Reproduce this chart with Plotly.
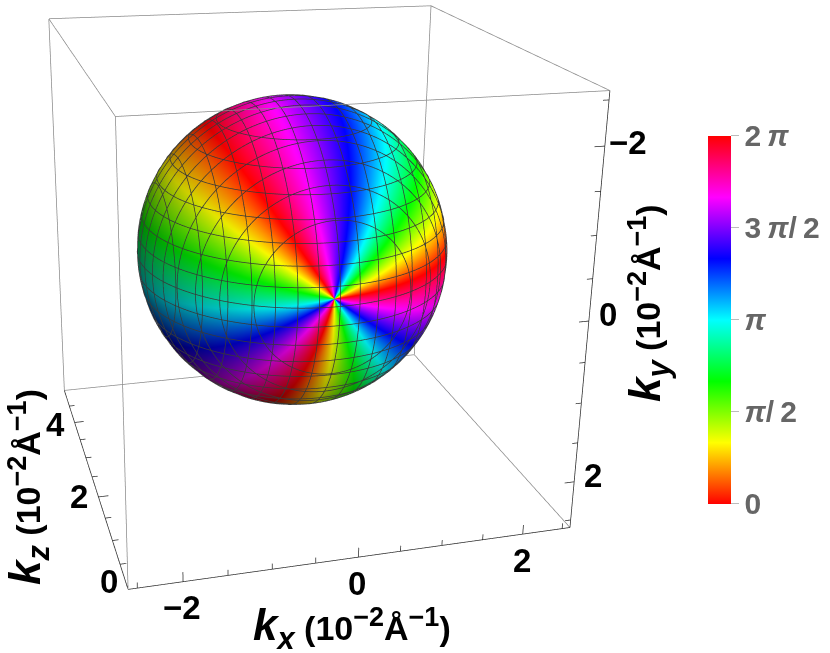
import numpy as np
import plotly.graph_objects as go

# ---- data -----
x_range = [-2.6, 2.6]
y_range = [-2.6, 2.6]
z_range = [0.0, 5.0]
sphere_center = [0.07, 0.02, 3.0]
sphere_radius = 1.92
pole_tilt = [-0.049, 0.036]
ray_azimuth_deg = [-3.0, -76.0, -123.0, -210.0, -254.0, -322.0, -363.0]
ray_phase = [0.0, 4*np.pi/3, 2*np.pi, 4*np.pi/3 + 2*np.pi, 4*np.pi, 4*np.pi/3 + 4*np.pi, 6*np.pi]
mesh_levels = [-7, -6, -5, -4, -3, -2, -1, 0, 1, 2, 3, 4, 5, 6, 7]
x_major = [-2, 0, 2]
y_major = [-2, 0, 2]
z_major = [0, 2, 4]
minor_step = 0.5
cbar_ticks = [0, np.pi/2, np.pi, 3*np.pi/2, 2*np.pi]
TS = "\u2009"
cbar_labels = ["<b>0</b>", f"<b><i>π</i>/{TS}2</b>", "<b><i>π</i></b>",
               f"<b>3{TS}<i>π</i>/{TS}2</b>", f"<b>2{TS}<i>π</i></b>"]
hues = ["#ff0000", "#ffff00", "#00ff00", "#00ffff", "#0000ff", "#ff00ff", "#ff0000"]

# ---- camera ----
cam_right = np.array([0.961, -0.0167, -0.277])
cam_up = np.array([0.0788, -0.941, 0.330])
cam_back = np.array([-0.266, -0.339, -0.9025])
eye_dist = 3.4
light_screen = (0.5, 0.45, 0.74)      # right, up, toward the viewer
shade_base, shade_gain = 0.62, 0.55

# ---- page layout ----
FIG = 1200
OFF_X, OFF_Y = 302, 338
def px(x, y):
    return (x + OFF_X) / FIG, 1 - (y + OFF_Y) / FIG

# ---- sphere: pole of the winding faces -kz ----
theta = np.linspace(0.002, np.pi - 0.002, 181)
phi_deg = np.linspace(ray_azimuth_deg[0], ray_azimuth_deg[-1], 361)
T, P = np.meshgrid(theta, np.radians(phi_deg))
phase = np.interp(phi_deg, ray_azimuth_deg[::-1], ray_phase[::-1])
H = np.tile(phase[:, None], (1, theta.size))
def rotate(ux, uy, uz):
    al, be = pole_tilt
    uy, uz = uy*np.cos(al) - uz*np.sin(al), uy*np.sin(al) + uz*np.cos(al)
    ux, uz = ux*np.cos(be) + uz*np.sin(be), -ux*np.sin(be) + uz*np.cos(be)
    return ux, uy, uz
ux, uy, uz = rotate(np.sin(T)*np.cos(P), np.sin(T)*np.sin(P), -np.cos(T))
cx, cy, cz = sphere_center
R = sphere_radius
X, Y, Z = cx + R*ux, cy + R*uy, cz + R*uz

light = light_screen[0]*cam_right + light_screen[1]*cam_up + light_screen[2]*cam_back
light = light/np.linalg.norm(light)
shade = np.clip(shade_base + shade_gain*(ux*light[0] + uy*light[1] + uz*light[2]), 0, 1)

h6 = (H % (2*np.pi))/(2*np.pi)*6
rgb = np.stack([np.clip(np.abs(h6 - 3) - 1, 0, 1),
                np.clip(2 - np.abs(h6 - 2), 0, 1),
                np.clip(2 - np.abs(h6 - 4), 0, 1)], axis=-1)
rgb = np.round(rgb*shade[..., None]*255).astype(int)
vertexcolor = [f"rgb({r},{g},{b})" for r, g, b in rgb.reshape(-1, 3)]

nu, nv = T.shape
idx = np.arange(nu*nv).reshape(nu, nv)
a, b, c, d = idx[:-1, :-1].ravel(), idx[1:, :-1].ravel(), idx[1:, 1:].ravel(), idx[:-1, 1:].ravel()
surf = go.Mesh3d(
    x=X.ravel(), y=Y.ravel(), z=Z.ravel(),
    i=np.concatenate([a, a]), j=np.concatenate([b, c]), k=np.concatenate([c, d]),
    vertexcolor=vertexcolor, hoverinfo="skip", showscale=False,
    lighting=dict(ambient=1.0, diffuse=0.0, specular=0.0, roughness=1.0, fresnel=0.0),
)

# colour bar of the phase
cbar = go.Scatter3d(
    x=[cx, cx], y=[cy, cy], z=[cz, cz], mode="markers", hoverinfo="skip", showlegend=False,
    marker=dict(size=1, color=[0, 2*np.pi], cmin=0, cmax=2*np.pi,
                colorscale=[[i/6, c_] for i, c_ in enumerate(hues)], showscale=True,
                colorbar=dict(
                    x=px(708, 0)[0], xanchor="left", y=px(0, 319.5)[1], yanchor="middle",
                    lenmode="pixels", len=368, thicknessmode="pixels", thickness=23, xpad=0, ypad=0,
                    outlinewidth=0, tickmode="array", tickvals=cbar_ticks, ticktext=cbar_labels,
                    ticks="outside", ticklen=8, tickwidth=1, tickcolor="#bbbbbb",
                    tickfont=dict(family="Liberation Sans", size=30, color="#666666"),
                )),
)

# ---- mesh lines: plane sections of the sphere ----
step = R/8
t = np.linspace(0, 2*np.pi, 181)
mx, my, mz = [], [], []
Rl = R*1.003
for k in mesh_levels:
    h = k*step
    r = np.sqrt(Rl**2 - h**2)
    ca, cb = r*np.cos(t), r*np.sin(t)
    for lx, ly, lz in ((cx + h + 0*ca, cy + ca, cz + cb), (cx + ca, cy + h + 0*ca, cz + cb), (cx + ca, cy + cb, cz + h + 0*ca)):
        mx += list(lx) + [None]; my += list(ly) + [None]; mz += list(lz) + [None]
mesh = go.Scatter3d(x=mx, y=my, z=mz, mode="lines", line=dict(color="#383838", width=1.5),
                    hoverinfo="skip", showlegend=False)

# ---- box + ticks ----
x0, x1 = x_range; y0, y1 = y_range; z0, z1 = z_range
def segs(pairs):
    xs, ys, zs = [], [], []
    for p, q in pairs:
        xs += [p[0], q[0], None]; ys += [p[1], q[1], None]; zs += [p[2], q[2], None]
    return go.Scatter3d(x=xs, y=ys, z=zs, mode="lines", hoverinfo="skip", showlegend=False)

grey = segs([
    ((x0,y0,z0),(x1,y0,z0)), ((x0,y1,z0),(x0,y0,z0)),
    ((x0,y0,z1),(x1,y0,z1)), ((x1,y0,z1),(x1,y1,z1)), ((x1,y1,z1),(x0,y1,z1)), ((x0,y1,z1),(x0,y0,z1)),
    ((x0,y0,z0),(x0,y0,z1)), ((x1,y0,z0),(x1,y0,z1)), ((x1,y1,z0),(x1,y1,z1)),
])
grey.line = dict(color="#8a8a8a", width=1.5)

tick_pairs = [((x0,y1,z0),(x1,y1,z0)), ((x1,y1,z0),(x1,y0,z0)), ((x0,y1,z0),(x0,y1,z1))]
L, l = 0.12, 0.07
for s in np.arange(-2.5, 2.51, minor_step):
    tx = L if s in x_major else l
    tick_pairs.append(((s,y1,z0),(s,y1-tx,z0)))
    ty = L if s in y_major else l
    tick_pairs.append(((x1,s,z0),(x1-ty,s,z0)))
for s in np.arange(0, 4.51, minor_step):
    tz = L if s in z_major else l
    tick_pairs.append(((x0,y1,s),(x0+tz,y1,s)))
dark = segs(tick_pairs)
dark.line = dict(color="#2a2a2a", width=1.5)

fig = go.Figure([surf, cbar, mesh, grey, dark])

# ---- tick labels, anchored to the scene ----
font = dict(family="Liberation Sans", size=33, color="black")
ann3d = []
def lab(x, y, z, text, dx, dy):
    ann3d.append(dict(x=x, y=y, z=z, text=f"<b>{text}</b>", showarrow=False, font=font,
                      xshift=dx, yshift=dy, xanchor="center", yanchor="middle"))
for v in x_major:
    lab(v, y1, z0, str(v).replace("-", "−"), -1, -26)
lab(x1, -2, z0, "−2", 23, 4)
lab(x1, 0, z0, "0", 19, 7)
lab(x1, 2, z0, "2", 19, 6)
lab(x0, y1, 0, "0", -19, 8)
lab(x0, y1, 2, "2", -19, 0)
lab(x0, y1, 4, "4", -19, -2)

axis_off = dict(showgrid=False, zeroline=False, showticklabels=False, showline=False,
                showbackground=False, showspikes=False, ticks="", title="")
eye = cam_back*eye_dist

title_font = dict(family="Liberation Sans", size=34, color="black")
def title_text(sub):
    return (f'<b><span style="font-size:44px"><i>k<sub>{sub}</sub></i></span> (10'
            '<sup><span style="font-size:27px">−2</span></sup>Å'
            '<sup><span style="font-size:27px">−1</span></sup>)</b>')
def title(x, y, text, angle):
    xx, yy = px(x, y)
    return dict(xref="paper", yref="paper", x=xx, y=yy, text=text, showarrow=False, font=title_font,
                textangle=angle, xanchor="center", yanchor="middle")

fig.update_layout(
    width=FIG, height=FIG, autosize=False, margin=dict(l=0, r=0, t=0, b=0),
    paper_bgcolor="white", showlegend=False,
    scene=dict(
        domain=dict(x=[0, 1], y=[0, 1]),
        xaxis=dict(range=x_range, **axis_off),
        yaxis=dict(range=y_range, **axis_off),
        zaxis=dict(range=z_range, **axis_off),
        aspectmode="manual", aspectratio=dict(x=1, y=1, z=1),
        camera=dict(eye=dict(x=eye[0], y=eye[1], z=eye[2]),
                    up=dict(x=cam_up[0], y=cam_up[1], z=cam_up[2]),
                    center=dict(x=0, y=0, z=0)),
        annotations=ann3d,
    ),
    annotations=[
        title(352, 628, title_text("x"), 0),
        title(28, 487, title_text("z"), -90),
        title(648, 303, title_text("y"), -90),
    ],
)

post = f"""
document.documentElement.style.overflow='hidden';
document.body.style.overflow='hidden';
document.body.style.margin='0';
var g=document.getElementById('{{plot_id}}');
g.style.position='absolute'; g.style.left='-{OFF_X}px'; g.style.top='-{OFF_Y}px';
"""
fig.write_html("out.html", post_script=post, config=dict(displayModeBar=False))
